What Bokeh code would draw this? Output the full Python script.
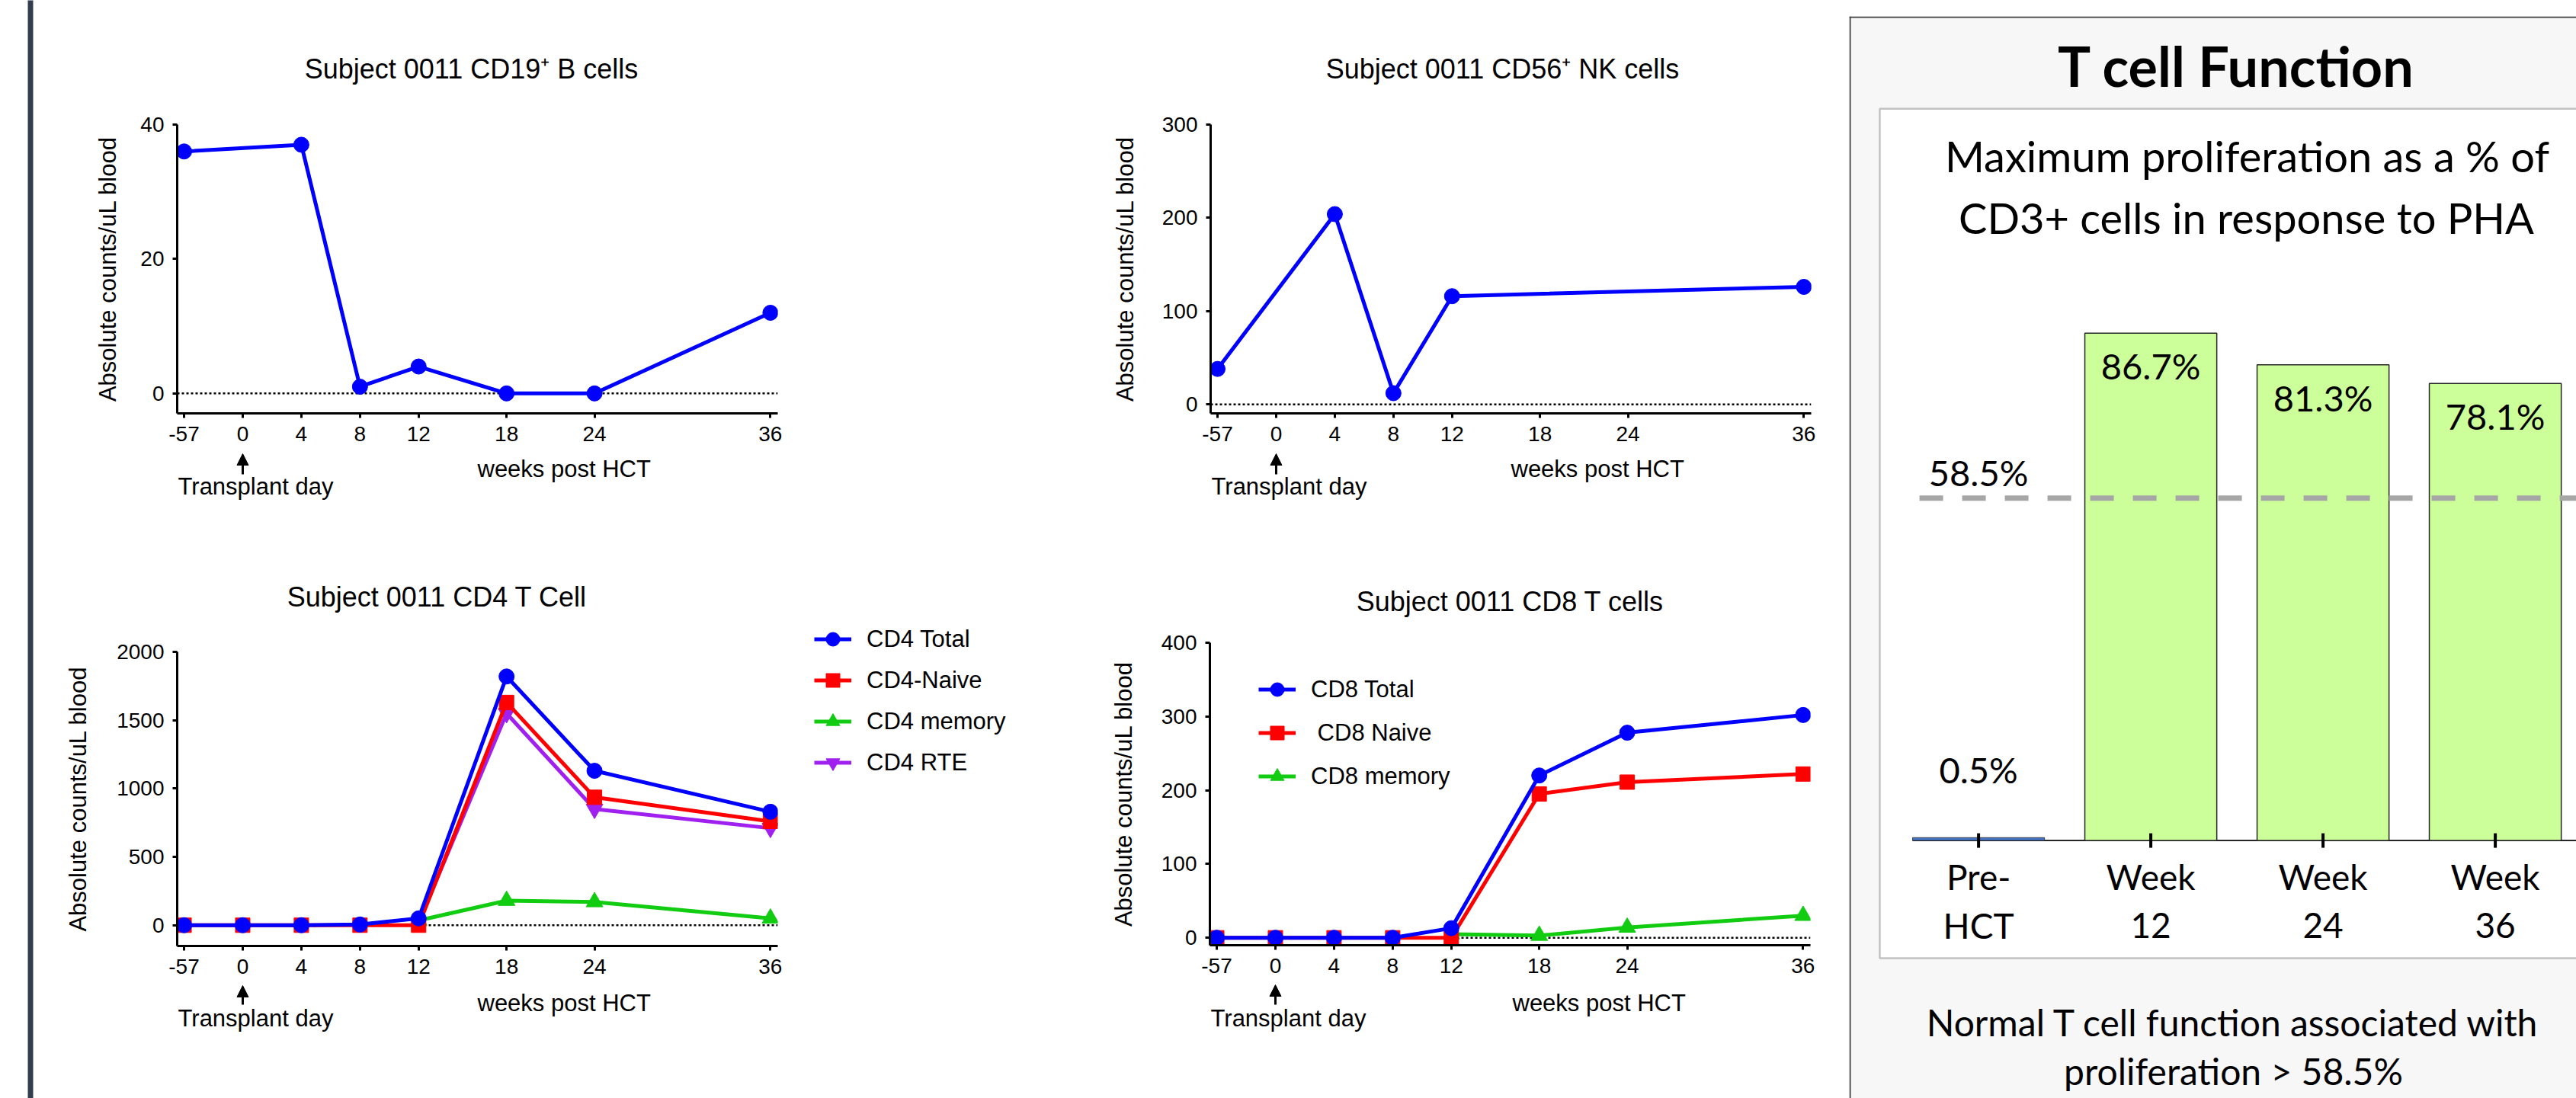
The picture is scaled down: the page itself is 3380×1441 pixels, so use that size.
import math
from bokeh.plotting import figure
from bokeh.models import (Range1d, FixedTicker, Label, Legend, LegendItem, Span, Arrow,
                          NormalHead, BoxAnnotation, ColumnDataSource, Spacer)
from bokeh.layouts import row, column
from bokeh.core.properties import value
from bokeh.embed import file_html
from bokeh.resources import INLINE

# ------------------------------------------------------------------ data
timepoint_labels = ["-57", "0", "4", "8", "12", "18", "24", "36"]
timepoint_pos = [-4, 0, 4, 8, 12, 18, 24, 36]      # slot on the time axis
POS = dict(zip(timepoint_labels, timepoint_pos))

b_tp = ["-57", "4", "8", "12", "18", "24", "36"]
b_counts = [36, 37, 1, 4, 0, 0, 12]

nk_tp = ["-57", "4", "8", "12", "36"]
nk_counts = [38, 204, 12, 116, 126]

cd4_tp = ["-57", "0", "4", "8", "12", "18", "24", "36"]
cd4_total = [0, 0, 0, 5, 50, 1820, 1130, 830]
cd4_naive = [0, 0, 0, 0, 0, 1630, 936, 760]
cd4_mem_tp = ["12", "18", "24", "36"]
cd4_memory = [35, 180, 170, 50]
cd4_rte_tp = ["12", "18", "24", "36"]
cd4_rte = [20, 1550, 850, 710]

cd8_tp = ["-57", "0", "4", "8", "12", "18", "24", "36"]
cd8_total = [0, 0, 0, 0, 13, 220, 278, 302]
cd8_naive = [0, 0, 0, 0, 0, 195, 211, 222]
cd8_mem_tp = ["12", "18", "24", "36"]
cd8_memory = [5, 3, 14, 30]

tcf_categories = ["Pre-HCT", "Week 12", "Week 24", "Week 36"]
tcf_values = [0.5, 86.7, 81.3, 78.1]
tcf_threshold = 58.5

# ------------------------------------------------------------------ style
FONT = "Liberation Sans"
CFONT = "Lato"
STY = {
    "total": dict(color="#0000FF", marker="circle", size=20),
    "naive": dict(color="#FF0000", marker="square", size=19),
    "memory": dict(color="#11CC11", marker="triangle", size=22),
    "rte": dict(color="#A020F0", marker="inverted_triangle", size=22),
}
LW = 5
X0, X1 = -4.47, 36.5
FW = 788


def xs(tps):
    return [POS[t] for t in tps]


def bare(w, h, bl=0, br=0, xr=None, yr=None):
    p = figure(width=w, height=h, x_range=xr or Range1d(0, 1), y_range=yr or Range1d(0, h),
               min_border_left=bl, min_border_right=br, min_border_top=0,
               min_border_bottom=0, x_axis_location=None, y_axis_location=None,
               output_backend="svg", toolbar_location=None, title=None)
    p.outline_line_color = None
    p.grid.visible = False
    p.background_fill_color = "white"
    p.border_fill_color = "white"
    return p


def title_fig(w, h, bl, text, x, y):
    p = bare(w, h, bl, w - bl - FW, xr=Range1d(X0, X1))
    p.add_layout(Label(x=x, y=y, x_units="screen", y_units="screen", text=text,
                       text_font=FONT, text_font_size="36px", text_align="center",
                       text_baseline="middle", text_color="black"))
    return p


def main_fig(w, bl, fh, y0, y1, yticks, ylab_standoff):
    bt, bb = 20, 50
    br = w - bl - FW
    p = figure(width=w, height=bt + fh + bb, x_range=Range1d(X0, X1),
               y_range=Range1d(y0, y1), min_border_left=bl, min_border_right=br,
               min_border_top=bt, min_border_bottom=bb, output_backend="svg",
               toolbar_location=None, title=None)
    p.outline_line_color = None
    p.grid.visible = False
    p.background_fill_color = "white"
    p.border_fill_color = "white"
    for ax in (p.xaxis[0], p.yaxis[0]):
        ax.axis_line_width = 3
        ax.axis_line_color = "black"
        ax.major_tick_line_width = 3
        ax.major_tick_line_color = "black"
        ax.major_tick_out = 6
        ax.major_tick_in = 0
        ax.minor_tick_line_color = None
        ax.major_label_text_font = FONT
        ax.major_label_text_font_size = "28px"
        ax.major_label_text_color = "black"
    p.xaxis.ticker = FixedTicker(ticks=timepoint_pos)
    p.xaxis.major_label_overrides = {pp: lab for pp, lab in zip(timepoint_pos, timepoint_labels)}
    p.xaxis.major_label_standoff = 11
    p.yaxis.ticker = FixedTicker(ticks=yticks)
    p.yaxis.major_label_standoff = 11
    p.yaxis.axis_label = "Absolute counts/uL blood"
    p.yaxis.axis_label_text_font = FONT
    p.yaxis.axis_label_text_font_size = "31px"
    p.yaxis.axis_label_text_font_style = "normal"
    p.yaxis.axis_label_text_color = "black"
    p.yaxis.axis_label_standoff = ylab_standoff
    p.add_layout(Span(location=0, dimension="width", line_color="black", line_width=2.5,
                      line_dash="3 3", level="underlay"))
    return p


def bottom_fig(w, h, bl, tip, tail, td_y, wk_x, wk_y):
    p = bare(w, h, bl, w - bl - FW, xr=Range1d(X0, X1), yr=Range1d(0, h))
    p.text(x=[0], y=[td_y], text=["Transplant day"], x_offset=17,
           text_font=value(FONT), text_font_size="31px", text_align="center",
           text_baseline="middle", text_color="black")
    p.add_layout(Label(x=wk_x, y=wk_y, x_units="screen", y_units="data",
                       text="weeks  post HCT", text_font=FONT, text_font_size="31px",
                       text_align="center", text_baseline="middle", text_color="black"))
    p.add_layout(Arrow(x_start=0, y_start=tail, x_end=0, y_end=tip, line_width=3,
                       line_color="black",
                       end=NormalHead(size=15, fill_color="black", line_color="black")))
    return p


def series(p, tps, vals, key):
    s = STY[key]
    x = xs(tps)
    l = p.line(x, vals, line_color=s["color"], line_width=LW)
    m = p.scatter(x, vals, marker=s["marker"], size=s["size"], fill_color=s["color"],
                  line_color=s["color"])
    return [l, m]


def make_legend(items, loc, spacing):
    return Legend(items=[LegendItem(label=lab, renderers=r) for lab, r in items],
                  location=loc, orientation="vertical", glyph_width=49, glyph_height=45,
                  label_height=30, label_standoff=20, spacing=spacing, padding=0,
                  margin=0, border_line_color=None, background_fill_alpha=0,
                  label_text_font=FONT, label_text_font_size="31px",
                  label_text_color="black")


# ---- panel 1: B cells
t1 = title_fig(1296, 143, 188, "Subject 0011 CD19\u207a B cells", 386, 53.5)
f1 = main_fig(1296, 188, 379, -2.97, 40, [0, 20, 40], 22)
series(f1, b_tp, b_counts, "total")
b1 = bottom_fig(1296, 128, 188, 125, 98, 82, 512, 105)

# ---- panel 2: NK cells
t2 = title_fig(1086, 143, 248, "Subject 0011 CD56\u207a NK cells", 383, 53.5)
f2 = main_fig(1086, 248, 379, -9.65, 300, [0, 100, 200, 300], 28)
series(f2, nk_tp, nk_counts, "total")
b2 = bottom_fig(1086, 128, 248, 125, 98, 82, 512, 105)

# ---- panel 3: CD4
t3 = title_fig(1001, 115, 188, "Subject 0011 CD4 T  Cell", 346, 52)
f3 = main_fig(1001, 188, 386, -152, 2000, [0, 500, 1000, 1500, 2000], 30)
series(f3, cd4_rte_tp, cd4_rte, "rte")
series(f3, cd4_mem_tp, cd4_memory, "memory")
series(f3, cd4_tp, cd4_naive, "naive")
series(f3, cd4_tp, cd4_total, "total")
b3 = bottom_fig(1001, 150, 188, 148, 123, 105, 512, 125)

# legend of panel 3 (sits beside the plot); its sample glyphs lie outside the view
lg3 = bare(295, 721, xr=Range1d(0, 295), yr=Range1d(0, 721))
leg_r = {}
for key in ("total", "naive", "memory", "rte"):
    s = STY[key]
    leg_r[key] = [lg3.line(x=[-50, -40], y=[-50, -50], line_color=s["color"], line_width=LW),
                  lg3.scatter(x=[-50], y=[-50], marker=s["marker"], size=s["size"],
                              fill_color=s["color"], line_color=s["color"])]
lg3.add_layout(make_legend([("CD4 Total", leg_r["total"]), ("CD4-Naive", leg_r["naive"]),
                            ("CD4 memory", leg_r["memory"]), ("CD4 RTE", leg_r["rte"])],
                           (23, 418), 9))

# ---- panel 4: CD8
t4 = title_fig(1086, 103, 247, "Subject 0011 CD8 T cells", 394, 34)
f4 = main_fig(1086, 247, 397, -10.1, 400, [0, 100, 200, 300, 400], 29)
q_mem = series(f4, cd8_mem_tp, cd8_memory, "memory")
q_nai = series(f4, cd8_tp, cd8_naive, "naive")
q_tot = series(f4, cd8_tp, cd8_total, "total")
f4.add_layout(make_legend([("CD8 Total", q_tot), (" CD8 Naive", q_nai),
                           ("CD8 memory", q_mem)], (64, 199), 12))
b4 = bottom_fig(1086, 151, 247, 149, 123, 105, 515, 125)

# ---- left dark strip
strip = figure(width=44, height=1441, min_border_left=36, min_border_right=1,
               min_border_top=0, min_border_bottom=0, x_axis_location=None,
               y_axis_location=None, output_backend="svg", toolbar_location=None, title=None)
strip.background_fill_color = "#323E4F"
strip.border_fill_color = "white"
strip.outline_line_color = None
strip.grid.visible = False

# ---- right: T cell function
RW, RH = 954, 1420
CAT_PX = 226.0
VAL_PX = 7.68
xs0 = -169.6 / CAT_PX
ys0 = -338.4 / VAL_PX
x_end = xs0 + RW / CAT_PX
pr = figure(width=RW, height=RH, x_range=Range1d(xs0, x_end),
            y_range=Range1d(ys0, ys0 + RH / VAL_PX), min_border=0,
            x_axis_location=None, y_axis_location=None, output_backend="svg",
            toolbar_location=None, title=None)
pr.background_fill_color = "#F7F7F7"
pr.border_fill_color = "#F7F7F7"
pr.outline_line_color = None
pr.grid.visible = False

pr.add_layout(BoxAnnotation(left=40, right=3000, top=1298.7, bottom=184,
                            left_units="screen", right_units="screen", top_units="screen",
                            bottom_units="screen", fill_color="white", fill_alpha=1,
                            line_color="#404040", line_width=2.5, level="underlay"))
pr.add_layout(Span(location=RH - 1, location_units="screen", dimension="width",
                   line_color="#404040", line_width=2))
pr.add_layout(Span(location=1, location_units="screen", dimension="height",
                   line_color="#404040", line_width=2))

cat_pos = list(range(len(tcf_categories)))
BW = 0.766
above = [v >= tcf_threshold for v in tcf_values]
src = ColumnDataSource(dict(
    x=cat_pos,
    top=tcf_values,
    color=["#CCFF99" if a else "#4472C4" for a in above],
    lw=[1.5 if a else 0.8 for a in above],
    label=[f"{v}%" for v in tcf_values],
    off=[43 if a else -89 for a in above],
    line1=[c.split(" ")[0] if " " in c else c.split("-")[0] + "-" for c in tcf_categories],
    line2=[c.split(" ")[1] if " " in c else c.split("-")[1] for c in tcf_categories],
    zero=[0] * len(tcf_categories),
))
pr.segment(x0=[cat_pos[0] - BW / 2], y0=[0], x1=[x_end], y1=[0],
           line_color="#262626", line_width=2)
pr.vbar(x="x", top="top", width=BW, source=src, fill_color="color",
        line_color="#262626", line_width="lw")
pr.scatter(x="x", y="zero", source=src, marker="dash", angle=math.pi / 2, size=19,
           line_color="black", line_width=4)
pr.segment(x0=[cat_pos[0] - BW / 2 + 0.04], y0=[tcf_threshold], x1=[x_end],
           y1=[tcf_threshold], line_color="#A6A6A6", line_width=7, line_dash="31 25")
pr.text(x="x", y="top", text="label", source=src, y_offset="off",
        text_font=value(CFONT), text_font_size="47px", text_align="center",
        text_baseline="middle", text_color="black")
pr.text(x=[cat_pos[0]], y=[tcf_threshold], text=[f"{tcf_threshold}%"], y_offset=-34,
        text_font=value(CFONT), text_font_size="47px", text_align="center",
        text_baseline="middle", text_color="black")
pr.text(x="x", y="zero", text="line1", source=src, y_offset=47,
        text_font=value(CFONT), text_font_size="46px", text_align="center",
        text_baseline="middle", text_color="black")
pr.text(x="x", y="zero", text="line2", source=src, y_offset=111,
        text_font=value(CFONT), text_font_size="46px", text_align="center",
        text_baseline="middle", text_color="black")


def rlabel(x, y, text, size, style="normal"):
    pr.add_layout(Label(x=x, y=y, x_units="screen", y_units="screen", text=text,
                        text_font=CFONT, text_font_size=size, text_font_style=style,
                        text_align="center", text_baseline="middle", text_color="black"))


rlabel(508, 1356, "T cell Function", "72px", "bold")
rlabel(522, 1237, "Maximum proliferation as a % of", "56px")
rlabel(521, 1156, "CD3+ cells in response to PHA", "56px")
rlabel(504, 100, "Normal T cell function associated with", "48px")
rlabel(504, 36, "proliferation > 58.5%", "48px")

layout = row(
    strip,
    column(row(column(t1, f1, b1), column(t2, f2, b2)),
           row(row(column(t3, f3, b3), lg3), column(t4, f4, b4))),
    column(Spacer(width=RW, height=21), pr),
)

open("out.html", "w").write(file_html(layout, INLINE))
